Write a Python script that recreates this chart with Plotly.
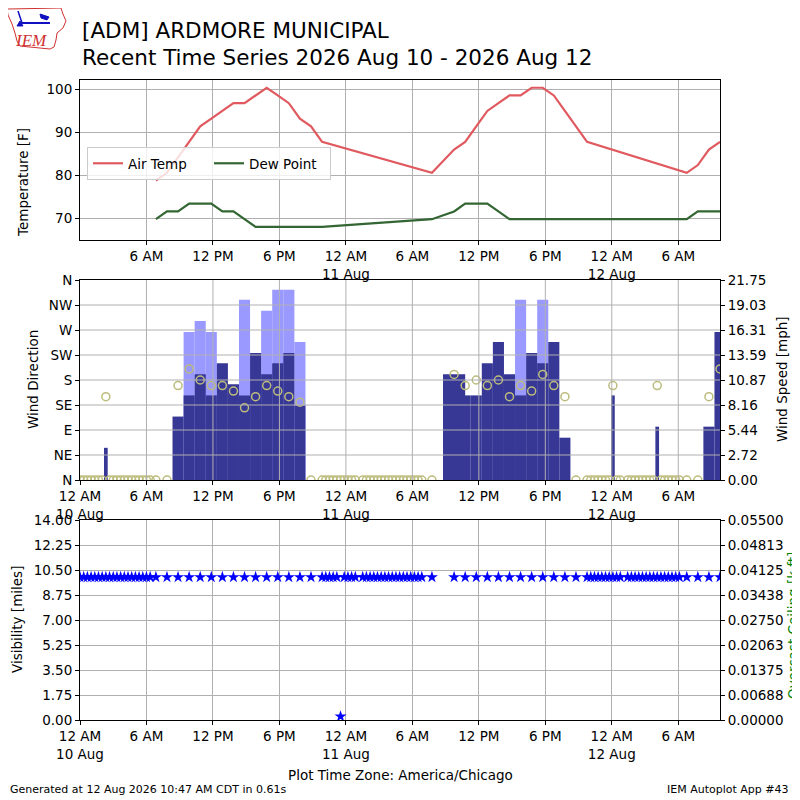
import pandas as pd
import plotly.graph_objects as go

# ---------------------------------------------------------------- data
# hourly reports with temperature (deg F)
temp_time = [
    "08-10 06:51", "08-10 07:51", "08-10 08:51", "08-10 09:51", "08-10 10:51",
    "08-10 11:51", "08-10 12:51", "08-10 13:51", "08-10 14:51", "08-10 15:51",
    "08-10 16:51", "08-10 17:51", "08-10 18:51", "08-10 19:51", "08-10 20:51",
    "08-10 21:51",
    "08-11 07:46", "08-11 09:46", "08-11 10:46", "08-11 11:46", "08-11 12:46",
    "08-11 13:46", "08-11 14:46", "08-11 15:46", "08-11 16:46", "08-11 17:46",
    "08-11 18:46", "08-11 19:46", "08-11 20:46", "08-11 21:46",
    "08-12 06:46", "08-12 07:46", "08-12 08:46", "08-12 09:46",
]
air_temp = [
    78.8, 80.6, 84.2, 87.8, 91.4, 93.2, 95.0, 96.8, 96.8, 98.6,
    100.4, 98.6, 96.8, 93.2, 91.4, 87.8,
    80.6, 86.0, 87.8, 91.4, 95.0, 96.8, 98.6, 98.6, 100.4, 100.4,
    98.6, 95.0, 91.4, 87.8,
    80.6, 82.4, 86.0, 87.8,
]
dew_point = [
    69.8, 71.6, 71.6, 73.4, 73.4, 73.4, 71.6, 71.6, 69.8, 68.0,
    68.0, 68.0, 68.0, 68.0, 68.0, 68.0,
    69.8, 71.6, 73.4, 73.4, 73.4, 71.6, 69.8, 69.8, 69.8, 69.8,
    69.8, 69.8, 69.8, 69.8,
    69.8, 71.6, 71.6, 71.6,
]

# every report (wind + visibility)
obs_time = [
    # 10 Aug overnight, 20 minute reports
    "08-10 00:00", "08-10 00:20", "08-10 00:40", "08-10 01:00", "08-10 01:20",
    "08-10 01:40", "08-10 02:00", "08-10 02:20", "08-10 02:40", "08-10 03:00",
    "08-10 03:20", "08-10 03:40", "08-10 04:00", "08-10 04:20", "08-10 04:40",
    "08-10 05:00", "08-10 05:20", "08-10 05:40", "08-10 06:00", "08-10 06:20",
    # 10 Aug hourly
    "08-10 06:51", "08-10 07:51", "08-10 08:51", "08-10 09:51", "08-10 10:51",
    "08-10 11:51", "08-10 12:51", "08-10 13:51", "08-10 14:51", "08-10 15:51",
    "08-10 16:51", "08-10 17:51", "08-10 18:51", "08-10 19:51", "08-10 20:51",
    "08-10 21:51",
    # night of 10-11 Aug
    "08-10 22:11", "08-10 22:31", "08-10 22:51", "08-10 23:11", "08-10 23:31",
    "08-10 23:51", "08-11 00:11", "08-11 00:31", "08-11 00:51", "08-11 01:31",
    "08-11 01:51", "08-11 02:11", "08-11 02:31", "08-11 02:51", "08-11 03:11",
    "08-11 03:31", "08-11 03:51", "08-11 04:11", "08-11 04:31", "08-11 04:51",
    "08-11 05:11", "08-11 05:31", "08-11 05:51", "08-11 06:11", "08-11 06:31",
    "08-11 06:51",
    # 11 Aug hourly
    "08-11 07:46", "08-11 09:46", "08-11 10:46", "08-11 11:46", "08-11 12:46",
    "08-11 13:46", "08-11 14:46", "08-11 15:46", "08-11 16:46", "08-11 17:46",
    "08-11 18:46", "08-11 19:46", "08-11 20:46", "08-11 21:46",
    # night of 11-12 Aug
    "08-11 22:06", "08-11 22:26", "08-11 22:46", "08-11 23:06", "08-11 23:26",
    "08-11 23:46", "08-12 00:06", "08-12 00:26", "08-12 00:46", "08-12 01:26",
    "08-12 01:46", "08-12 02:06", "08-12 02:26", "08-12 02:46", "08-12 03:06",
    "08-12 03:26", "08-12 03:46", "08-12 04:06", "08-12 04:26", "08-12 04:46",
    "08-12 05:06", "08-12 05:26", "08-12 05:46", "08-12 06:06",
    # 12 Aug morning
    "08-12 06:46", "08-12 07:46", "08-12 08:46", "08-12 09:46",
]
wind_drct = [
    0, 0, 0, 0, 0, 0, 0, 150, 0, 0, 0, 0, 0, 0, 0, 0, 0, 0, 0, 0,
    0, 0, 170, 200, 180, 170, 170, 160, 130, 150, 170, 160, 150, 140, 0, 0,
    0, 0, 0, 0, 0, 0, 0, 0, 0, 0, 0, 0, 0, 0, 0, 0, 0, 0, 0, 0,
    0, 0, 0, 0, 0, 0,
    0, 190, 170, 180, 170, 180, 150, 170, 160, 190, 170, 150, 0, 0,
    0, 0, 0, 0, 0, 0, 170, 0, 0, 0, 0, 0, 0, 0, 0, 0, 0, 170, 0, 0,
    0, 0, 0, 0,
    0, 0, 150, 200,
]
wind_mph = [
    0, 0, 0, 0, 0, 0, 0, 3.5, 0, 0, 0, 0, 0, 0, 0, 0, 0, 0, 0, 0,
    0, 0, 6.9, 9.2, 11.5, 9.2, 12.7, 10.4, 9.2, 13.8, 11.5, 12.7, 13.8, 8.1, 0, 0,
    0, 0, 0, 0, 0, 0, 0, 0, 0, 0, 0, 0, 0, 0, 0, 0, 0, 0, 0, 0,
    0, 0, 0, 0, 0, 0,
    0, 11.5, 9.2, 9.2, 12.7, 15.0, 11.5, 9.2, 13.8, 12.7, 15.0, 4.6, 0, 0,
    0, 0, 0, 0, 0, 0, 9.2, 0, 0, 0, 0, 0, 0, 0, 0, 0, 0, 5.8, 0, 0,
    0, 0, 0, 0,
    0, 0, 5.8, 16.1,
]
N = None
gust_mph = [
    N, N, N, N, N, N, N, N, N, N, N, N, N, N, N, N, N, N, N, N,
    N, N, N, 16.1, 17.3, 16.1, N, N, 19.6, N, 18.4, 20.7, 20.7, 15.0, N, N,
    N, N, N, N, N, N, N, N, N, N, N, N, N, N, N, N, N, N, N, N,
    N, N, N, N, N, N,
    N, N, N, N, N, N, N, 19.6, N, 19.6, N, N, N, N,
    N, N, N, N, N, N, N, N, N, N, N, N, N, N, N, N, N, N, N, N,
    N, N, N, N,
    N, N, N, N,
]
vis_miles = [
    10, 10, 10, 10, 10, 10, 10, 10, 10, 10, 10, 10, 10, 10, 10, 10, 10, 10, 10, 10,
    10, 10, 10, 10, 10, 10, 10, 10, 10, 10, 10, 10, 10, 10, 10, 10,
    10, 10, 10, 10, 0.25, 10, 10, 10, 10, 10, 10, 10, 10, 10, 10, 10, 10, 10, 10, 10,
    10, 10, 10, 10, 10, 10,
    10, 10, 10, 10, 10, 10, 10, 10, 10, 10, 10, 10, 10, 10,
    10, 10, 10, 10, 10, 10, 10, 10, 10, 10, 10, 10, 10, 10, 10, 10, 10, 10, 10, 10,
    10, 10, 10, 10,
    10, 10, 10, 10,
]

# ticks
x_ticks = ["08-10 00:00", "08-10 06:00", "08-10 12:00", "08-10 18:00",
           "08-11 00:00", "08-11 06:00", "08-11 12:00", "08-11 18:00",
           "08-12 00:00", "08-12 06:00"]
x_tick_text = ["12 AM<br>10 Aug", "6 AM", "12 PM", "6 PM", "12 AM<br>11 Aug",
               "6 AM", "12 PM", "6 PM", "12 AM<br>12 Aug", "6 AM"]
temp_ticks = [70, 80, 90, 100]
drct_ticks = [0, 45, 90, 135, 180, 225, 270, 315, 360]
drct_text = ["N", "NE", "E", "SE", "S", "SW", "W", "NW", "N"]
speed_ticks = [0, 2.71875, 5.4375, 8.15625, 10.875, 13.59375, 16.3125, 19.03125, 21.75]
speed_text = ["0.00", "2.72", "5.44", "8.16", "10.87", "13.59", "16.31", "19.03", "21.75"]
vis_ticks = [0, 1.75, 3.5, 5.25, 7, 8.75, 10.5, 12.25, 14]
ceil_ticks = [0, 0.006875, 0.01375, 0.020625, 0.0275, 0.034375, 0.04125, 0.048125, 0.055]
ceil_text = ["0.00000", "0.00688", "0.01375", "0.02063", "0.02750", "0.03438",
             "0.04125", "0.04813", "0.05500"]

X_START = "2026-08-10 00:00"
X_END = "2026-08-12 09:46"

def ts(lst):
    return pd.to_datetime(["2026-" + s for s in lst])

t_temp = ts(temp_time)
t_obs = ts(obs_time)
t_ticks = ts(x_ticks)
# bar width = time since the previous report
bar_w = [20 * 60 * 1000] + [(b - a).total_seconds() * 1000
                            for a, b in zip(t_obs[:-1], t_obs[1:])]

# screen pixel -> paper (page has an 8px body margin, plot area 80..720 on screen)
def PX(x):
    return (x - 80) / 640.0

def PY(y):
    return (720 - y) / 640.0

FONT = "DejaVu Sans"
GRID = "#b0b0b0"

fig = go.Figure()
fig.add_trace(go.Scatter(x=t_temp, y=air_temp, name="Air Temp", mode="lines",
                         line=dict(color="#e0595f", width=2.2), xaxis="x", yaxis="y"))
fig.add_trace(go.Scatter(x=t_temp, y=dew_point, name="Dew Point", mode="lines",
                         line=dict(color="#336633", width=2.2), xaxis="x", yaxis="y"))
fig.add_trace(go.Bar(x=t_obs, y=gust_mph, width=bar_w, marker=dict(color="#9999ff", line_width=0),
                     showlegend=False, xaxis="x2", yaxis="y2"))
fig.add_trace(go.Bar(x=t_obs, y=wind_mph, width=bar_w, marker=dict(color="#373796", line_width=0),
                     showlegend=False, xaxis="x2", yaxis="y2"))
fig.add_trace(go.Scatter(x=t_obs, y=wind_drct, mode="markers", showlegend=False,
                         marker=dict(symbol="circle-open", size=8, color="#bcbc7c",
                                     line=dict(width=1.5, color="#bcbc7c")),
                         xaxis="x2", yaxis="y3"))
fig.add_trace(go.Scatter(x=t_obs, y=vis_miles, mode="markers", showlegend=False,
                         marker=dict(symbol="star", size=9, color="#0000ff", line_width=0),
                         xaxis="x3", yaxis="y4"))
fig.add_trace(go.Scatter(x=[], y=[], showlegend=False, xaxis="x3", yaxis="y5"))

ax = dict(showline=True, linecolor="black", linewidth=1, ticks="outside", ticklen=4,
          tickcolor="black", tickfont=dict(size=13.5, family=FONT, color="black"),
          gridcolor=GRID, gridwidth=1, zeroline=False, automargin=False)
xax = dict(ax, type="date", range=[X_START, X_END], domain=[0, 1], mirror=True)

fig.update_layout(
    width=792, height=792,
    margin=dict(l=72, r=80, t=72, b=80),
    plot_bgcolor="white", paper_bgcolor="white",
    font=dict(family=FONT, size=13.5, color="black"),
    barmode="overlay",
    xaxis=dict(xax, anchor="y", tickvals=t_ticks[1:], ticktext=x_tick_text[1:], showgrid=True),
    xaxis2=dict(xax, anchor="y2", tickvals=t_ticks, ticktext=x_tick_text, showgrid=False),
    xaxis3=dict(xax, anchor="y4", tickvals=t_ticks, ticktext=x_tick_text, showgrid=True),
    yaxis=dict(ax, domain=[PY(240), 1], anchor="x", range=[64.95, 102.2],
               tickvals=temp_ticks, showgrid=True, mirror=True),
    yaxis2=dict(ax, domain=[PY(480), PY(280)], anchor="x2", side="right", range=[0, 21.75],
                tickvals=speed_ticks, ticktext=speed_text, showgrid=False),
    yaxis3=dict(ax, overlaying="y2", anchor="x2", side="left", range=[0, 360],
                tickvals=drct_ticks, ticktext=drct_text, showgrid=False),
    yaxis4=dict(ax, domain=[0, PY(520)], anchor="x3", range=[0, 14],
                tickvals=vis_ticks, ticktext=["%.2f" % v for v in vis_ticks], showgrid=True),
    yaxis5=dict(ax, overlaying="y4", anchor="x3", side="right", range=[0, 0.055],
                tickvals=ceil_ticks, ticktext=ceil_text, showgrid=False),
    legend=dict(orientation="h", x=PX(87), y=PY(147), xanchor="left", yanchor="top",
                bgcolor="rgba(255,255,255,0.8)", bordercolor="#cccccc", borderwidth=1,
                font=dict(size=13.5, family=FONT), entrywidth=76),
)

# grid of the wind panel is drawn over the bars
shapes = []
for v in drct_ticks[1:-1]:
    shapes.append(dict(type="line", xref="x2 domain", yref="y3", x0=0, x1=1, y0=v, y1=v,
                       line=dict(color=GRID, width=1), layer="above"))
for t in t_ticks[1:]:
    shapes.append(dict(type="line", xref="x2", yref="y3 domain", x0=t, x1=t, y0=0, y1=1,
                       line=dict(color=GRID, width=1), layer="above"))

# IEM logo (rough sketch)
def path(pts, close=True):
    s = "M " + " L ".join("%.4f,%.4f" % (PX(x), PY(y)) for x, y in pts)
    return s + (" Z" if close else "")

shapes.append(dict(type="path", xref="paper", yref="paper",
                   path=path([(7, 9), (61, 8), (63, 14), (66, 21), (63, 28), (57, 33), (56, 40),
                              (54, 47), (50, 49), (20, 46), (17, 41), (15, 33), (12, 24), (8, 15)]),
                   line=dict(color="#d03030", width=1)))
shapes.append(dict(type="path", xref="paper", yref="paper", path=path([(22, 23), (50, 23)], False),
                   line=dict(color="#1010c0", width=2)))
shapes.append(dict(type="path", xref="paper", yref="paper", path=path([(18, 11), (22, 23)], False),
                   line=dict(color="#1010c0", width=1.5)))
shapes.append(dict(type="path", xref="paper", yref="paper",
                   path=path([(40, 14), (49, 17), (47, 20), (41, 18)]),
                   fillcolor="#1010c0", line=dict(color="#1010c0", width=1)))
shapes.append(dict(type="path", xref="paper", yref="paper",
                   path=path([(17, 26), (23, 26), (20, 21)]),
                   fillcolor="#1010c0", line=dict(color="#1010c0", width=1)))
fig.update_layout(shapes=shapes)

ann = [
    dict(text="IEM", x=PX(31), y=PY(40), font=dict(family="Liberation Serif", size=17,
         color="#d03030", style="italic")),
    dict(text="[ADM] ARDMORE MUNICIPAL", x=PX(80), y=PY(30), xanchor="left",
         font=dict(size=21.5)),
    dict(text="Recent Time Series 2026 Aug 10 - 2026 Aug 12", x=PX(80), y=PY(57),
         xanchor="left", font=dict(size=21.5)),
    dict(text="Temperature [F]", x=PX(23), y=PY(183), textangle=-90),
    dict(text="Wind Direction", x=PX(33), y=PY(380), textangle=-90),
    dict(text="Wind Speed [mph]", x=PX(782), y=PY(379), textangle=-90),
    dict(text="Visibility [miles]", x=PX(17), y=PY(620), textangle=-90),
    dict(text="Overcast Ceiling [k ft]", x=PX(793), y=PY(626), textangle=-90,
         font=dict(color="green")),
    dict(text="Plot Time Zone: America/Chicago", x=0.5, y=PY(775)),
    dict(text="Generated at 12 Aug 2026 10:47 AM CDT in 0.61s", x=PX(8), y=PY(789),
         xanchor="left", font=dict(size=11)),
    dict(text="IEM Autoplot App #43", x=PX(791), y=PY(789), xanchor="right",
         font=dict(size=11)),
]
for a in ann:
    a.setdefault("xanchor", "center")
    a.setdefault("yanchor", "middle")
    a.setdefault("font", {})
    a["font"].setdefault("size", 13.5)
    a["font"].setdefault("family", FONT)
    a["font"].setdefault("color", "black")
    fig.add_annotation(xref="paper", yref="paper", showarrow=False, **a)

fig.write_html("out.html")
